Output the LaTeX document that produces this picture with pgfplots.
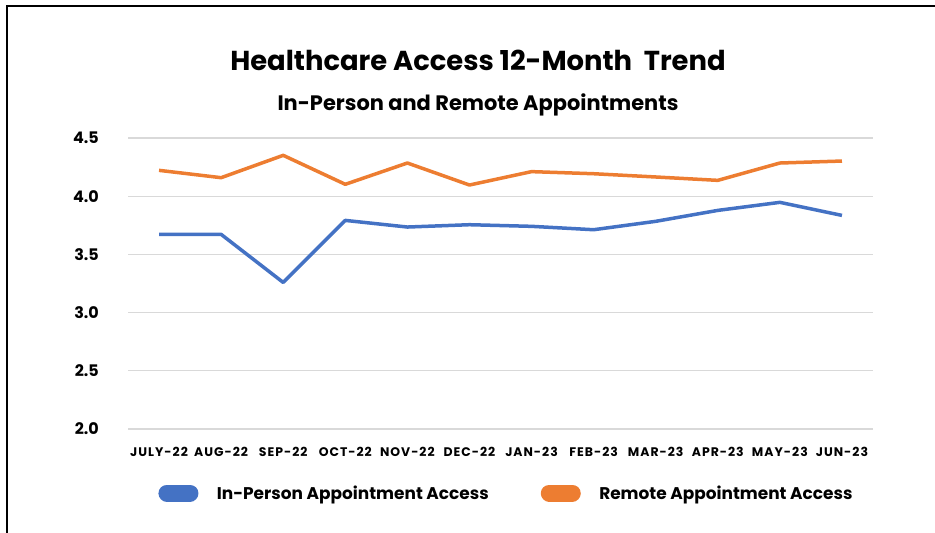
\documentclass[border=0pt]{standalone}
\usepackage{fontspec}
\setmainfont{Poppins}
\newfontfamily\tickfont{Poppins}[LetterSpace=8]
\usepackage{pgfplots}
\pgfplotsset{compat=1.18}
\definecolor{blueA}{HTML}{4472C4}
\definecolor{orangeA}{HTML}{ED7D31}
\definecolor{gridc}{HTML}{D9D9D9}
\begin{document}
\begin{tikzpicture}[x=1bp,y=1bp]
\useasboundingbox (0,0) rectangle (935,533);
\draw[line width=2bp] (7,0) -- (7,527) -- (935,527);
\node[font=\bfseries\fontsize{27.5}{30}\selectfont] at (478,473) {Healthcare Access 12-Month\ \ Trend};
\node[font=\bfseries\fontsize{21}{24}\selectfont] at (478,428) {In-Person and Remote Appointments};
\begin{axis}[
  at={(128bp,104bp)}, anchor=south west,
  scale only axis, width=745bp, height=291bp,
  xmin=-0.5, xmax=11.5, ymin=2, ymax=4.5,
  axis line style={draw=none},
  major tick length=0pt,
  ytick={2,2.5,3,3.5,4,4.5},
  yticklabel style={font=\bfseries\fontsize{16}{18}\selectfont, inner sep=0pt, anchor=east, xshift=-29bp,
    /pgf/number format/.cd, fixed, fixed zerofill, precision=1, assume math mode=true},
  xtick={0,...,11},
  xticklabels={JULY-22,AUG-22,SEP-22,OCT-22,NOV-22,DEC-22,JAN-23,FEB-23,MAR-23,APR-23,MAY-23,JUN-23},
  xticklabel style={font=\tickfont\bfseries\fontsize{12.5}{14}\selectfont, inner sep=0pt, anchor=north, yshift=-18bp},
  ymajorgrids, grid style={gridc, line width=1.3bp},
  legend style={at={(0.508,-0.22)}, anchor=center, draw=none, fill=none,
    legend columns=2, font=\bfseries\fontsize{17}{20}\selectfont,
    /tikz/every even column/.append style={column sep=50bp}},
  legend image code/.code={\draw[#1, line width=17bp, line cap=round] (0bp,0bp) -- (23bp,0bp);
    \path[draw=none, fill=none] (-8.5bp,-8.5bp) rectangle (48bp,8.5bp);},
]
\addplot[blueA, line width=3.5bp, line join=round] coordinates {
(0,3.672) (1,3.672) (2,3.259) (3,3.792) (4,3.735) (5,3.755) (6,3.741) (7,3.712) (8,3.784) (9,3.878) (10,3.947) (11,3.835)};
\addlegendentry{In-Person Appointment Access}
\addplot[orangeA, line width=3.5bp, line join=round] coordinates {
(0,4.222) (1,4.159) (2,4.351) (3,4.102) (4,4.285) (5,4.096) (6,4.211) (7,4.193) (8,4.165) (9,4.136) (10,4.285) (11,4.302)};
\addlegendentry{Remote Appointment Access}
\end{axis}
\end{tikzpicture}
\end{document}
